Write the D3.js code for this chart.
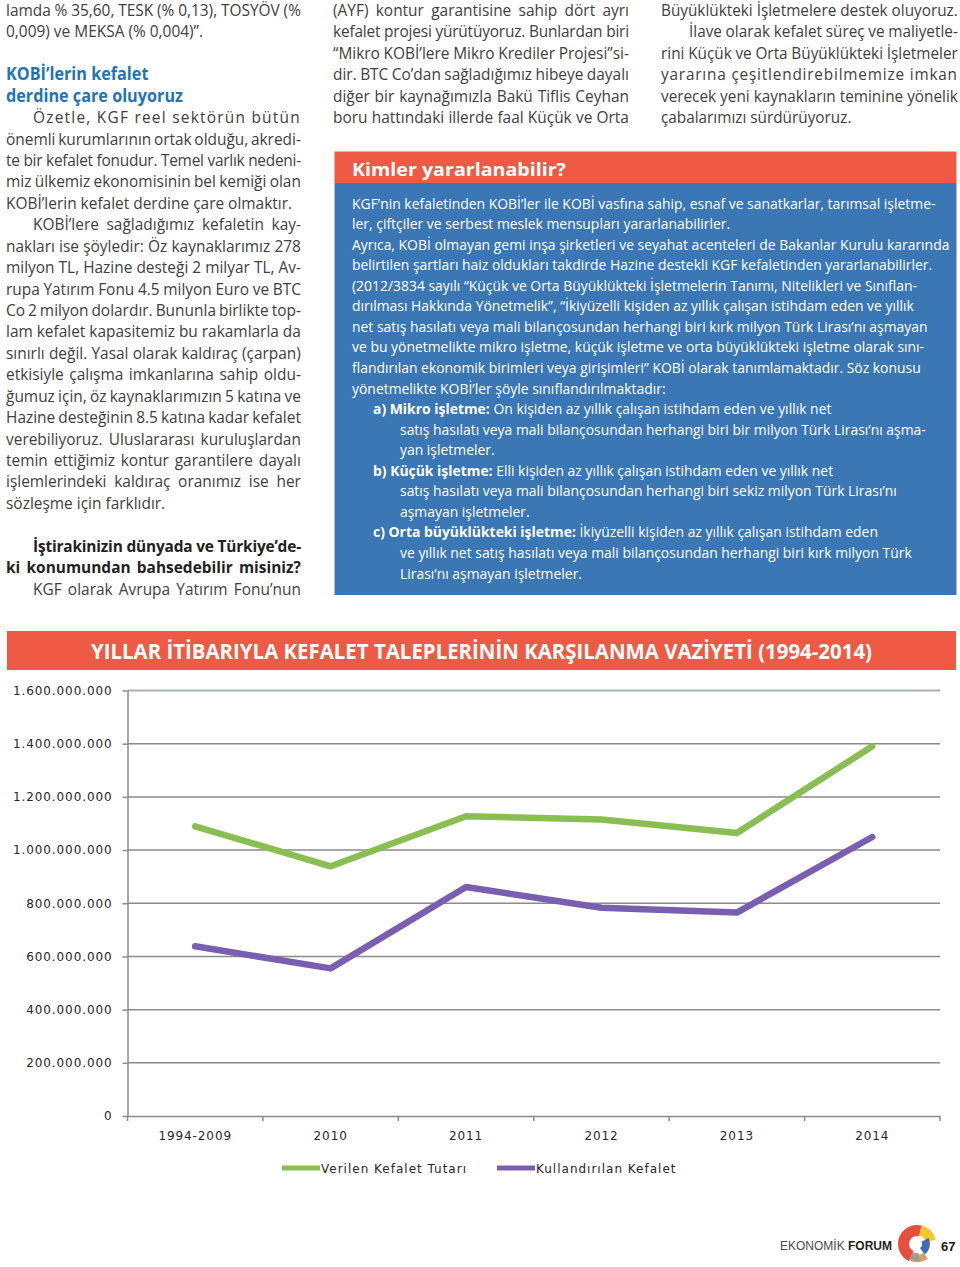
<!DOCTYPE html>
<html><head><meta charset="utf-8">
<script src="https://cdn.jsdelivr.net/npm/d3@7"></script>
<style>html,body{margin:0;padding:0;background:#fff}svg{display:block}</style>
</head><body>
<script>
// ---------------- chart data ----------------
const categories = ["1994-2009", "2010", "2011", "2012", "2013", "2014"];
const verilenKefalet = [1.089e9, 0.939e9, 1.127e9, 1.115e9, 1.064e9, 1.390e9];
const kullandirilanKefalet = [0.638e9, 0.555e9, 0.861e9, 0.783e9, 0.765e9, 1.049e9];
const yTicks = [0, 2e8, 4e8, 6e8, 8e8, 1e9, 1.2e9, 1.4e9, 1.6e9];
const seriesNames = ["Verilen Kefalet Tutarı", "Kullandırılan Kefalet"];
const chartTitle = "YILLAR İTİBARIYLA KEFALET TALEPLERİNİN KARŞILANMA VAZİYETİ (1994-2014)";

// ---------------- page text ----------------
const leftColumn = [
  "lamda % 35,60, TESK (% 0,13), TOSYÖV (%",
  "0,009) ve MEKSA (% 0,004)”.¶",
  "",
  "#KOBİ’lerin kefalet¶",
  "#derdine çare oluyoruz¶",
  ">Özetle, KGF reel sektörün bütün",
  "önemli kurumlarının ortak olduğu, akredi-",
  "te bir kefalet fonudur. Temel varlık nedeni-",
  "miz ülkemiz ekonomisinin bel kemiği olan",
  "KOBİ’lerin kefalet derdine çare olmaktır.¶",
  ">KOBİ’lere sağladığımız kefaletin kay-",
  "nakları ise şöyledir: Öz kaynaklarımız 278",
  "milyon TL, Hazine desteği 2 milyar TL, Av-",
  "rupa Yatırım Fonu 4.5 milyon Euro ve BTC",
  "Co 2 milyon dolardır. Bununla birlikte top-",
  "lam kefalet kapasitemiz bu rakamlarla da",
  "sınırlı değil. Yasal olarak kaldıraç (çarpan)",
  "etkisiyle çalışma imkanlarına sahip oldu-",
  "ğumuz için, öz kaynaklarımızın 5 katına ve",
  "Hazine desteğinin 8.5 katına kadar kefalet",
  "verebiliyoruz. Uluslararası kuruluşlardan",
  "temin ettiğimiz kontur garantilere dayalı",
  "işlemlerindeki kaldıraç oranımız ise her",
  "sözleşme için farklıdır.¶",
  "",
  ">**İştirakinizin dünyada ve Türkiye’de-**",
  "**ki konumundan bahsedebilir misiniz?**",
  ">KGF olarak Avrupa Yatırım Fonu’nun"
];
const middleColumn = [
  "(AYF) kontur garantisine sahip dört ayrı",
  "kefalet projesi yürütüyoruz. Bunlardan biri",
  "“Mikro KOBİ’lere Mikro Krediler Projesi”si-",
  "dir. BTC Co’dan sağladığımız hibeye dayalı",
  "diğer bir kaynağımızla Bakü Tiflis Ceyhan",
  "boru hattındaki illerde faal Küçük ve Orta"
];
const rightColumn = [
  "Büyüklükteki İşletmelere destek oluyoruz.",
  ">İlave olarak kefalet süreç ve maliyetle-",
  "rini Küçük ve Orta Büyüklükteki İşletmeler",
  "yararına çeşitlendirebilmemize imkan",
  "verecek yeni kaynakların teminine yönelik",
  "çabalarımızı sürdürüyoruz.¶"
];
const boxTitle = "Kimler yararlanabilir?";
const boxLines = [
  "KGF’nin kefaletinden KOBİ’ler ile KOBİ vasfına sahip, esnaf ve sanatkarlar, tarımsal işletme-",
  "ler, çiftçiler ve serbest meslek mensupları yararlanabilirler.",
  "Ayrıca, KOBİ olmayan gemi inşa şirketleri ve seyahat acenteleri de Bakanlar Kurulu kararında",
  "belirtilen şartları haiz oldukları takdirde Hazine destekli KGF kefaletinden yararlanabilirler.",
  "(2012/3834 sayılı “Küçük ve Orta Büyüklükteki İşletmelerin Tanımı, Nitelikleri ve Sınıflan-",
  "dırılması Hakkında Yönetmelik”, “İkiyüzelli kişiden az yıllık çalışan istihdam eden ve yıllık",
  "net satış hasılatı veya mali bilançosundan herhangi biri kırk milyon Türk Lirası’nı aşmayan",
  "ve bu yönetmelikte mikro işletme, küçük işletme ve orta büyüklükteki işletme olarak sını-",
  "flandırılan ekonomik birimleri veya girişimleri” KOBİ olarak tanımlamaktadır. Söz konusu",
  "yönetmelikte KOBİ’ler şöyle sınıflandırılmaktadır:",
  ">**a) Mikro işletme:** On kişiden az yıllık çalışan istihdam eden ve yıllık net",
  ">>satış hasılatı veya mali bilançosundan herhangi biri bir milyon Türk Lirası’nı aşma-",
  ">>yan işletmeler.",
  ">**b) Küçük işletme:** Elli kişiden az yıllık çalışan istihdam eden ve yıllık net",
  ">>satış hasılatı veya mali bilançosundan herhangi biri sekiz milyon Türk Lirası’nı",
  ">>aşmayan işletmeler.",
  ">**c) Orta büyüklükteki işletme:** İkiyüzelli kişiden az yıllık çalışan istihdam eden",
  ">>ve yıllık net satış hasılatı veya mali bilançosundan herhangi biri kırk milyon Türk",
  ">>Lirası’nı aşmayan işletmeler."
];

// ---------------- setup ----------------
const W = 960, H = 1267;
const BODY = "'Open Sans', 'Noto Sans', sans-serif";
const RED = "#ef5a45", BLUE = "#3b76b5";
const GREEN_LINE = "#89bf52", PURPLE_LINE = "#7a5fb0";
const svg = d3.select("body").append("svg").attr("width", W).attr("height", H);

function parse(s, justifyDefault) {
  const o = {indent: 0, justify: justifyDefault, heading: false, segs: []};
  for (;;) {
    if (s.startsWith(">")) { o.indent++; s = s.slice(1); }
    else if (s.startsWith("#")) { o.heading = true; s = s.slice(1); }
    else break;
  }
  if (s.endsWith("¶")) { o.justify = false; s = s.slice(0, -1); }
  s.split("**").forEach((p, i) => { if (p) o.segs.push({t: p, b: i % 2 === 1}); });
  return o;
}

function drawBlock(lines, cfg) {
  const g = svg.append("g");
  const items = lines.map((s, i) => Object.assign(parse(s, cfg.justify !== false), {i}))
                     .filter(d => d.segs.length);
  items.forEach(d => {
    d.x = cfg.x0 + (d.indent ? cfg.indents[d.indent - 1] : 0);
    d.y = cfg.y0 + d.i * cfg.lh;
    d.g = g.append("g");
    d.t = d.g.append("text")
      .attr("font-family", BODY)
      .attr("font-size", d.heading ? cfg.hSize : cfg.size)
      .attr("font-weight", d.heading ? 700 : 400)
      .attr("fill", d.heading ? cfg.hFill : cfg.fill);
    d.segs.forEach(s => d.t.append("tspan")
      .attr("font-weight", s.b ? 700 : null)
      .attr("fill", s.b ? (cfg.bFill || null) : null)
      .text(s.t));
    d.nat = d.t.node().getComputedTextLength();
    d.target = cfg.x1 - d.x;
  });
  let r = cfg.r;
  if (cfg.fit) {
    r = d3.mean(cfg.fit, ([i, end]) => {
      const f = items.find(d => d.i === i);
      return (end - f.x) / f.nat;
    });
  } else if (!r) {
    r = d3.median(items.filter(d => d.justify && !d.heading && !d.segs.some(s => s.b)),
                  d => d.target / d.nat);
  }
  let hr = r;
  if (cfg.hFit) {
    const f = items.find(d => d.i === cfg.hFit[0]);
    hr = (cfg.hFit[1] - f.x) / f.nat;
  }
  items.forEach(d => {
    const rr = d.heading ? hr : r;
    d.g.attr("transform", `translate(${d.x},${d.y}) scale(${rr},1)`);
    if (d.justify) {
      const extra = d.target / rr - d.nat;
      const txt = d.segs.map(s => s.t).join("");
      const spaces = (txt.match(/ /g) || []).length;
      const ws = spaces ? extra / spaces : Infinity;
      if (ws < 5 && ws > -1.5) d.t.style("word-spacing", ws + "px");
      else d.t.style("letter-spacing", (extra / txt.length) + "px");
    }
  });
}

// ---------------- text columns ----------------
drawBlock(leftColumn, {x0: 6, x1: 301, y0: 16, lh: 21.43, size: 16, fill: "#404040",
  indents: [27], hSize: 17, hFill: "#1f74b9", hFit: [4, 183], bFill: "#231f20"});
drawBlock(middleColumn, {x0: 333, x1: 629, y0: 16, lh: 21.43, size: 16, fill: "#404040", indents: [27]});
drawBlock(rightColumn, {x0: 661, x1: 958, y0: 16, lh: 21.43, size: 16, fill: "#404040", indents: [28]});

// ---------------- box ----------------
svg.append("rect").attr("x", 334.5).attr("y", 151.5).attr("width", 622).attr("height", 31.5).attr("fill", RED);
svg.append("rect").attr("x", 334.5).attr("y", 183).attr("width", 622).attr("height", 412).attr("fill", BLUE);
svg.append("text").attr("x", 352).attr("y", 175.5)
  .attr("font-family", BODY).attr("font-weight", 700).attr("font-size", 18).attr("fill", "#fff")
  .attr("textLength", 214).attr("lengthAdjust", "spacingAndGlyphs").text(boxTitle);
drawBlock(boxLines, {x0: 352, x1: 941, y0: 208.5, lh: 20.56, size: 14.5, fill: "#fff",
  indents: [21, 48], justify: false,
  fit: [[0, 940], [2, 935], [3, 916], [6, 937], [7, 938], [8, 926]]});

// ---------------- chart ----------------
svg.append("rect").attr("x", 7).attr("y", 631).attr("width", 949).attr("height", 39).attr("fill", RED);
svg.append("text").attr("x", 91).attr("y", 658.5)
  .attr("font-family", BODY).attr("font-weight", 700).attr("font-size", 20.5).attr("fill", "#fff")
  .attr("textLength", 781).attr("lengthAdjust", "spacingAndGlyphs").text(chartTitle);

const xS = d3.scaleBand().domain(categories).range([127.5, 940]).padding(0);
const yS = d3.scaleLinear().domain([0, 1.6e9]).range([1116, 690.5]);
const fmt = v => v === 0 ? "0" : d3.format(",")(v).replace(/,/g, ".");
const AX = "#8a8a8a";
const CHART_FONT = "'DejaVu Sans', Verdana, sans-serif";
const chart = svg.append("g");

chart.append("g").selectAll("line").data(yTicks.filter(v => v > 0)).join("line")
  .attr("x1", 127.5).attr("x2", 940)
  .attr("y1", d => yS(d)).attr("y2", d => yS(d))
  .attr("stroke", d => d === 1.6e9 ? "#a8b1b7" : AX)
  .attr("stroke-width", d => d === 1.6e9 ? 2.2 : 1.5);

const yAxis = chart.append("g").attr("transform", "translate(127.5,0)")
  .call(d3.axisLeft(yS).tickValues(yTicks).tickFormat(fmt).tickSize(5).tickSizeOuter(0).tickPadding(10));
const xAxis = chart.append("g").attr("transform", `translate(0,${yS(0)})`)
  .call(d3.axisBottom(xS).tickSize(0).tickSizeOuter(0).tickPadding(15));
[yAxis, xAxis].forEach(a => {
  a.select(".domain").attr("stroke", AX).attr("stroke-width", 1.5);
  a.selectAll(".tick line").attr("stroke", AX).attr("stroke-width", 1.5);
  a.selectAll("text").attr("font-family", CHART_FONT)
    .attr("font-size", 12).attr("fill", "#262626").style("letter-spacing", "0.9px");
});
chart.append("g").selectAll("line")
  .data(categories.map(c => xS(c)).concat([xS.range()[1]]))
  .join("line").attr("x1", d => d).attr("x2", d => d)
  .attr("y1", yS(0)).attr("y2", yS(0) + 5).attr("stroke", AX).attr("stroke-width", 1.5);

const line = d3.line().x((d, i) => xS(categories[i]) + xS.bandwidth() / 2).y(d => yS(d));
const series = [verilenKefalet, kullandirilanKefalet];
const colors = [GREEN_LINE, PURPLE_LINE];
chart.append("g").selectAll("path").data(series).join("path")
  .attr("d", line).attr("fill", "none")
  .attr("stroke", (d, i) => colors[i]).attr("stroke-width", 6.5)
  .attr("stroke-linejoin", "round").attr("stroke-linecap", "round");

const leg = chart.append("g").attr("transform", "translate(282,1168)");
let lx = 0;
seriesNames.forEach((n, i) => {
  const it = leg.append("g").attr("transform", `translate(${lx},0)`);
  it.append("line").attr("x1", 0).attr("x2", 38).attr("stroke", colors[i]).attr("stroke-width", 5);
  const t = it.append("text").attr("x", 39).attr("y", 4.5)
    .attr("font-family", CHART_FONT).attr("font-size", 12)
    .attr("fill", "#262626").style("letter-spacing", "1px").text(n);
  lx += 39 + t.node().getComputedTextLength() + 30;
});

// ---------------- footer ----------------
const ft = svg.append("text").attr("x", 780).attr("y", 1250)
  .attr("font-family", "'Liberation Sans', Arial, sans-serif").attr("font-size", 12.5)
  .attr("textLength", 112).attr("lengthAdjust", "spacingAndGlyphs");
ft.append("tspan").attr("fill", "#4a4a4a").text("EKONOMİK ");
ft.append("tspan").attr("fill", "#1f1f1f").attr("font-weight", 700).text("FORUM");
const logo = svg.append("g").attr("transform", "translate(917,1244)");
const arc = d3.arc();
[
  {s: -2.7, e: 0.25, ir: 8, or: 19, c: "#e4402f"},
  {s: 0.25, e: 1.35, ir: 9, or: 19, c: "#f4c21b"},
  {s: 1.1, e: 2.5, ir: 5, or: 13, c: "#2f5fae"},
  {s: 2.5, e: 3.6, ir: 11, or: 18, c: "#cf9a5c"},
  {s: -3.3, e: -2.7, ir: 9, or: 17, c: "#9a9a9a"}
].forEach(p => logo.append("path")
  .attr("d", arc({innerRadius: p.ir, outerRadius: p.or, startAngle: p.s, endAngle: p.e}))
  .attr("fill", p.c).attr("opacity", 0.92));
svg.append("text").attr("x", 941).attr("y", 1251)
  .attr("font-family", "'Liberation Sans', Arial, sans-serif").attr("font-weight", 700)
  .attr("font-size", 13).attr("fill", "#1a1a1a").text("67");
</script>
</body></html>
